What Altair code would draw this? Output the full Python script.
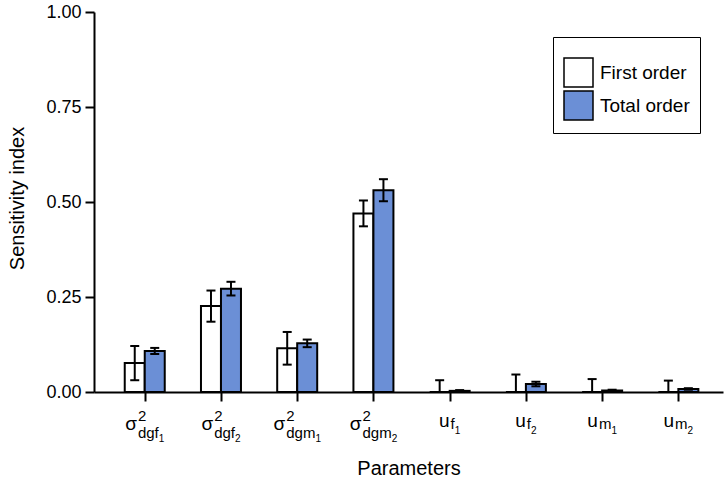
import altair as alt
import pandas as pd

# ---- data ----
params = ["dgf1", "dgf2", "dgm1", "dgm2", "uf1", "uf2", "um1", "um2"]
first_order = [0.076, 0.226, 0.115, 0.470, 0.000, 0.000, 0.000, 0.000]
first_err = [0.045, 0.041, 0.043, 0.034, 0.031, 0.046, 0.034, 0.030]
total_order = [0.108, 0.272, 0.128, 0.531, 0.003, 0.021, 0.004, 0.008]
total_err = [0.008, 0.018, 0.010, 0.029, 0.002, 0.006, 0.002, 0.002]

# tick labels: main symbol, superscript, subscript, sub-subscript
label_main = ["σ", "σ", "σ", "σ", "u", "u", "u", "u"]
label_sup = ["2", "2", "2", "2", "", "", "", ""]
label_sub = ["dgf", "dgf", "dgm", "dgm", "f", "f", "m", "m"]
label_subsub = ["1", "2", "1", "2", "1", "2", "1", "2"]

y_ticks = [0, 0.25, 0.5, 0.75, 1.0]
series = ["First order", "Total order"]

BLUE = "#6b8fd6"
FONT = "Liberation Sans"

rows = []
for i, p in enumerate(params):
    rows.append(dict(idx=i, param=p, type=series[0], value=first_order[i],
                     lo=first_order[i] - first_err[i], hi=first_order[i] + first_err[i]))
    rows.append(dict(idx=i, param=p, type=series[1], value=total_order[i],
                     lo=total_order[i] - total_err[i], hi=total_order[i] + total_err[i]))
df = pd.DataFrame(rows)

xscale = alt.Scale(domain=[-0.6, 7.52], nice=False, zero=False)
yscale = alt.Scale(domain=[0, 1], nice=False, zero=False)
color_scale = alt.Scale(domain=series, range=["white", BLUE])

x_axis = alt.Axis(values=list(range(len(params))), labels=False, grid=False,
                  title="Parameters", tickSize=9, tickWidth=2, domainWidth=2,
                  domainColor="black", tickColor="black", titleFontSize=20,
                  titleY=66, titleBaseline="top")
y_axis = alt.Axis(values=y_ticks, format=".2f", grid=False, title="Sensitivity index",
                  tickSize=9, tickWidth=2, domainWidth=2, domainColor="black",
                  tickColor="black", labelFontSize=18, labelPadding=4,
                  titleFontSize=20, titleX=-67, titleY=186)

legend = alt.Legend(title=" ", titleFontSize=8, titlePadding=2, orient="none",
                    legendX=459, legendY=25, symbolType="square", symbolSize=841,
                    symbolStrokeColor="black", symbolStrokeWidth=1.5,
                    labelFontSize=19, labelOffset=6, rowPadding=-12, padding=10,
                    strokeColor="black", fillColor="white", labelFont=FONT)

X = alt.X("idx:Q", scale=xscale, axis=x_axis)
OFF = {series[0]: -10, series[1]: 10}

layers = []
for t in series:
    off = OFF[t]
    sub = alt.Chart(df).transform_filter(alt.datum.type == t)
    bars = sub.mark_bar(size=20, xOffset=off, stroke="black", strokeWidth=2).encode(
        x=X,
        y=alt.Y("value:Q", scale=yscale, axis=y_axis),
        color=alt.Color("type:N", scale=color_scale, legend=legend),
    )
    rule = sub.mark_rule(xOffset=off, strokeWidth=2, color="black", clip=True).encode(
        x=X,
        y=alt.Y("lo:Q", scale=yscale, axis=y_axis),
        y2="hi:Q",
    )
    cap_lo = sub.mark_tick(xOffset=off, orient="horizontal", size=9, thickness=2,
                           color="black", opacity=1, clip=True).encode(
        x=X, y=alt.Y("lo:Q", scale=yscale, axis=y_axis))
    cap_hi = sub.mark_tick(xOffset=off, orient="horizontal", size=9, thickness=2,
                           color="black", opacity=1, clip=True).encode(
        x=X, y=alt.Y("hi:Q", scale=yscale, axis=y_axis))
    layers += [bars, rule, cap_lo, cap_hi]

# ---- tick labels built from parts ----
W = {"σ": 0.62, "u": 0.556, "d": 0.556, "g": 0.556, "f": 0.278, "m": 0.833,
     "1": 0.556, "2": 0.556}


def tw(s, size):
    return sum(W.get(ch, 0.556) for ch in s) * size


MAIN, SUP, SUB, SUBSUB = 19, 15, 15, 10
for i in range(len(params)):
    m, sp, sb, ss = label_main[i], label_sup[i], label_sub[i], label_subsub[i]
    is_sigma = sp != ""
    wm = tw(m, MAIN)
    gap = 1
    wsub = tw(sb, SUB)
    total = wm + gap + max(tw(sp, SUP), wsub + tw(ss, SUBSUB))
    start = -total / 2
    if is_sigma:
        dys = dict(main=38, sup=28.7, sub=45.7, subsub=49.7)
    else:
        dys = dict(main=34.7, sub=37, subsub=42.3)
    parts = [(m, MAIN, start, dys["main"])]
    if sp:
        parts.append((sp, SUP, start + wm + gap, dys["sup"]))
    parts.append((sb, SUB, start + wm + gap, dys["sub"]))
    parts.append((ss, SUBSUB, start + wm + gap + wsub, dys["subsub"]))
    for txt, size, dx, dy in parts:
        layers.append(
            alt.Chart(pd.DataFrame({"idx": [i], "txt": [txt]}))
            .mark_text(align="left", baseline="alphabetic", fontSize=size, dx=dx, dy=dy,
                       font=FONT, color="black")
            .encode(x=alt.X("idx:Q", scale=xscale, axis=x_axis), y=alt.datum(0), text="txt:N")
        )

chart = (
    alt.layer(*layers)
    .properties(width=629, height=380,
                padding={"left": 94, "top": 12, "right": 1, "bottom": 88},
                autosize=alt.AutoSizeParams(type="none"))
    .configure_view(stroke=None)
    .configure_axis(labelFont=FONT, titleFont=FONT, labelColor="black",
                    titleColor="black", titleFontWeight="normal")
    .configure_legend(labelColor="black")
)

chart.save("out.html", embed_options={"renderer": "svg", "actions": False})
